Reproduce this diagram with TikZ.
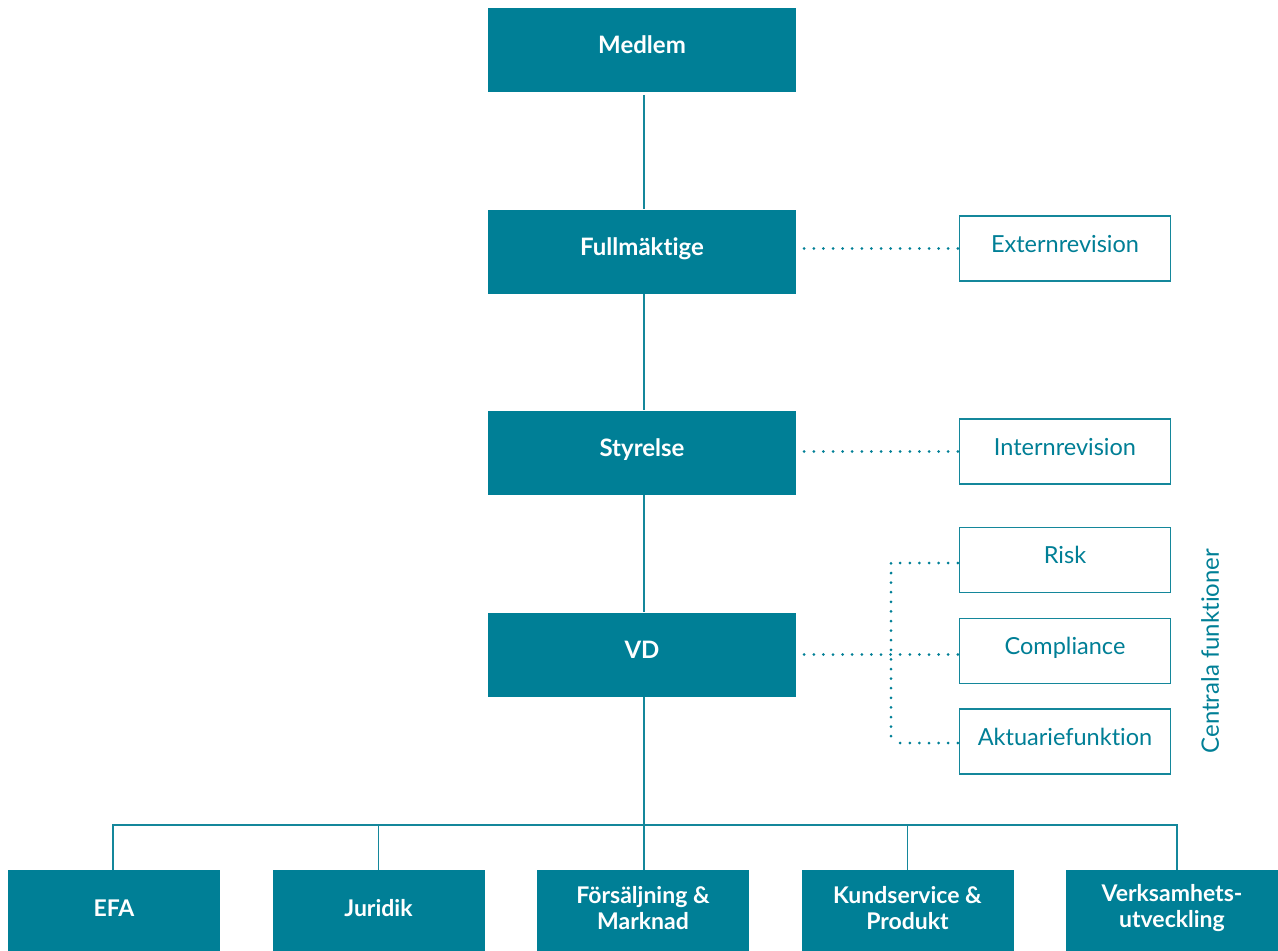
\documentclass[tikz,border=0pt]{standalone}
\usepackage{fontspec}
\setmainfont[Ligatures=NoCommon]{Lato}
\definecolor{teal1}{RGB}{0,127,150}
\definecolor{teal2}{RGB}{20,135,155}
\begin{document}
\begin{tikzpicture}[x=1pt,y=-1pt,
  solidbox/.style={draw=none,fill=teal1,text=white,font=\fontsize{24}{26}\selectfont\bfseries,minimum width=308pt,minimum height=84pt,inner sep=0pt,text height=13pt,text depth=6pt},
  lowbox/.style={draw=none,fill=teal1,minimum width=212pt,minimum height=81pt,inner sep=0pt},
  lowtext/.style={text=white,font=\fontsize{23}{26}\selectfont\bfseries,inner sep=0pt,align=center},
  openbox/.style={draw=teal2,line width=1.4pt,fill=white,text=teal1,font=\fontsize{23.5}{26}\selectfont,minimum width=211pt,minimum height=65pt,inner sep=0pt,text height=13pt,text depth=6pt},
  link/.style={draw=teal2,line width=1.4pt},
  dots/.style={draw=teal1,line width=3pt,line cap=round,dash pattern=on 0pt off 9.6pt}
]
\useasboundingbox (0,0) rectangle (1278,951);
\node[solidbox] (medlem) at (642,50) {Medlem};
\node[solidbox] (full) at (642,251.5) {Fullmäktige};
\node[solidbox] (styr) at (642,452.5) {Styrelse};
\node[solidbox] (vd) at (642,654.5) {VD};

\node[openbox] (ext) at (1065,248.5) {Externrevision};
\node[openbox] (int) at (1065,451.5) {Internrevision};
\node[openbox] (risk) at (1065,560) {Risk};
\node[openbox] (comp) at (1065,651) {Compliance};
\node[openbox] (akt) at (1065,741.5) {Aktuariefunktion};
\node[text=teal1,font=\fontsize{24}{26}\selectfont,rotate=90] (cent) at (1210,651) {Centrala funktioner};

\node[lowbox] (efa) at (114,910.5) {};
\node[lowbox] (jur) at (378.5,910.5) {};
\node[lowbox] (fors) at (643,910.5) {};
\node[lowbox] (kund) at (907.5,910.5) {};
\node[lowbox] (verk) at (1172,910.5) {};
\node[lowtext] (efat) at ([yshift=2.5pt]efa.center) {EFA};
\node[lowtext] (jurt) at ([yshift=2.5pt]jur.center) {Juridik};
\node[lowtext] (forst) at ([yshift=2.5pt]fors.center) {Försäljning \&\\Marknad};
\node[lowtext] (kundt) at ([yshift=2.5pt]kund.center) {Kundservice \&\\Produkt};
\node[lowtext] (verkt) at ([yshift=2.5pt]verk.center) {Verksamhets-\\utveckling};

\coordinate (bus) at (644,825);
\coordinate (hub) at (891,654.5);

\draw[link] ([yshift=-3pt]medlem.south -| bus) -- (full.north -| bus);
\draw[link] (full.south -| bus) -- (styr.north -| bus);
\draw[link] (styr.south -| bus) -- (vd.north -| bus);
\draw[link] (vd.south -| bus) -- (bus);
\draw[link] (efa.north -| 113,0) |- (bus) -| (verk.north -| 1177,0);
\draw[link] (jur.north) -- (jur.north |- bus);
\draw[link] (kund.north) -- (kund.north |- bus);
\draw[link] (bus) -- (fors.north -| bus);

\draw[dots] ([xshift=-1pt]ext.west) -- ([xshift=4pt]full.east |- ext.west);
\draw[dots] ([xshift=-1pt]int.west) -- ([xshift=4pt]int.west -| full.east);
\draw[dots] ([xshift=-1pt]comp.west |- vd.east) -- ([xshift=4pt]vd.east);
\draw[dots] ([xshift=-1pt,yshift=-3pt]risk.west) -- ([yshift=-3pt]risk.west -| hub) -- ([yshift=-1.5pt]akt.west -| hub);
\draw[dots] ([xshift=-1pt,yshift=-1.5pt]akt.west) -- ([yshift=-1.5pt]akt.west -| hub);
\end{tikzpicture}
\end{document}
